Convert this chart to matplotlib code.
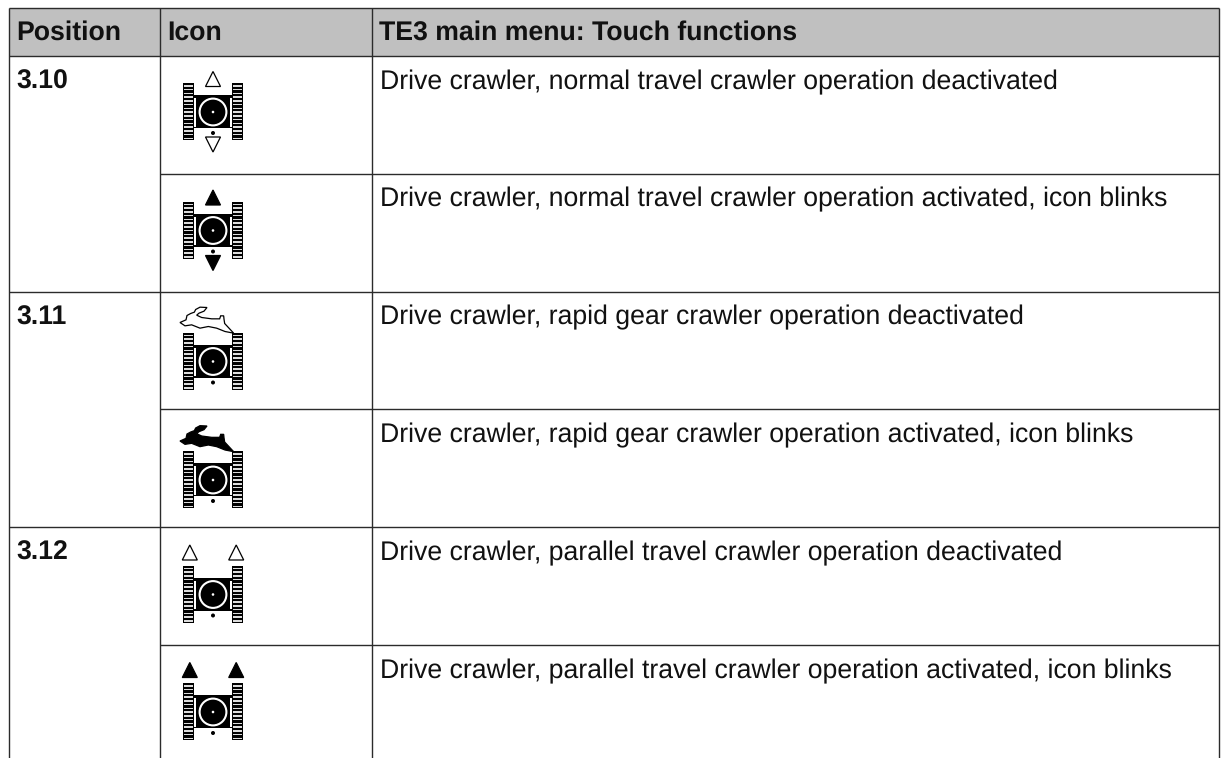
import matplotlib
matplotlib.use("Agg")
import matplotlib.pyplot as plt
from matplotlib.patches import Rectangle, Circle, Polygon

plt.rcParams['font.family'] = ['Liberation Sans', 'DejaVu Sans']
plt.rcParams['text.hinting'] = 'no_hinting'
plt.rcParams['text.hinting_factor'] = 8

# ---- content ----
headers = ["Position", "Icon", "TE3 main menu: Touch functions"]
positions = ["3.10", "3.11", "3.12"]
functions = [
    "Drive crawler, normal travel crawler operation deactivated",
    "Drive crawler, normal travel crawler operation activated, icon blinks",
    "Drive crawler, rapid gear crawler operation deactivated",
    "Drive crawler, rapid gear crawler operation activated, icon blinks",
    "Drive crawler, parallel travel crawler operation deactivated",
    "Drive crawler, parallel travel crawler operation activated, icon blinks",
]
icon_kinds = ["normal_off", "normal_on", "rapid_off", "rapid_on", "parallel_off", "parallel_on"]

# ---- layout (pixels) ----
W, H = 1224, 758
col_x = [8.5, 159.5, 371.5, 1218.5]
head_top, head_bot = 8, 56
row_y = [56, 173.5, 291.5, 409, 527, 645]
track_tops = [83, 201.5, 332.5, 451, 565.5, 683]
ICON_CX = 213
LINE = "#2b2b2b"
TXT = "#111111"

RABBIT = [(15,83),(24,79),(33,75),(36,62),(47,56),(58,52),(62,44),(75,37),(96,38),(87,49),
          (72,55),(65,61),(80,68),(110,72),(134,72),(137,63),(146,63),(147,73),(149,86),
          (176,115),(150,110),(125,100),(100,95),(75,100),(50,90),(30,93)]

fig = plt.figure(figsize=(W/100, H/100), dpi=100, facecolor="white")
ax = fig.add_axes([0, 0, 1, 1])
ax.set_xlim(0, W)
ax.set_ylim(H, 0)
ax.axis("off")

ax.add_patch(Rectangle((col_x[0], head_top), col_x[-1]-col_x[0], head_bot-head_top,
                       fc="#c0c0c0", ec="none", zorder=0))


def hl(x0, x1, y):
    ax.plot([x0, x1], [y, y], color=LINE, lw=1.0, solid_capstyle="butt", zorder=1)


def vl(x, y0, y1):
    ax.plot([x, x], [y0, y1], color=LINE, lw=1.0, solid_capstyle="butt", zorder=1)


hl(col_x[0], col_x[-1], head_top)
for x in col_x:
    vl(x, head_top, H)
for i, y in enumerate(row_y):
    hl(col_x[0] if i % 2 == 0 else col_x[1], col_x[-1], y)

HEAD_FS = 19.15
BODY_FS = 19.17
for x, s in zip([16, 167, 379], headers):
    ax.text(x, 40, s, fontsize=HEAD_FS, fontweight="bold", color=TXT, va="baseline", ha="left")
for i, s in enumerate(positions):
    ax.text(16, row_y[2*i] + 33, s, fontsize=HEAD_FS, fontweight="bold", color=TXT, va="baseline")
for y, s in zip(row_y, functions):
    ax.text(380, y + 33, s, fontsize=BODY_FS, color=TXT, va="baseline")


def tri(cx, top, up, filled, half=7.5, h=15):
    pts = [(cx, top), (cx-half, top+h), (cx+half, top+h)] if up else \
          [(cx, top+h), (cx-half, top), (cx+half, top)]
    ax.add_patch(Polygon(pts, closed=True, fc="black" if filled else "white", ec="black",
                         lw=0.9, joinstyle="miter", zorder=3))


def crawler(t, cx=ICON_CX):
    k = "black"
    # body
    ax.add_patch(Rectangle((cx-20, t+12), 40, 33, fc=k, ec="none", zorder=2))
    # tracks
    for x0 in (cx-30, cx+19):
        ax.add_patch(Rectangle((x0, t), 11, 57, fc=k, ec="none", zorder=2))
        for j in range(15):
            yy = t + 2.0 + j*3.75
            ax.add_patch(Rectangle((x0+1.2, yy), 8.6, 1.5, fc="#dcdcdc", ec="none", zorder=3))
    # white separators
    for x0 in (cx-19.3, cx+17):
        ax.add_patch(Rectangle((x0, t+15), 1.8, 28.5, fc="white", ec="none", zorder=3))
    # wheel
    ax.add_patch(Circle((cx, t+29), 13.4, fc=k, ec="white", lw=1.5, zorder=4))
    ax.add_patch(Circle((cx, t+29), 1.3, fc="white", ec="none", zorder=5))
    # pivot dot
    ax.add_patch(Circle((cx, t+50), 2, fc=k, ec="none", zorder=4))


def rabbit(t, filled):
    pts = [(ICON_CX + (zx-114)/3, t + (zy-113)/3) for zx, zy in RABBIT]
    ax.add_patch(Polygon(pts, closed=True, fc="black" if filled else "white", ec="black",
                         lw=0.9, zorder=6))


for kind, t in zip(icon_kinds, track_tops):
    crawler(t)
    group, state = kind.split("_")
    on = state == "on"
    if group == "normal":
        tri(ICON_CX, t-11.5, True, on)
        tri(ICON_CX, t+54, False, on)
    elif group == "rapid":
        rabbit(t, on)
    else:
        tri(ICON_CX-23.2, t-20.5, True, on)
        tri(ICON_CX+23.2, t-20.5, True, on)

fig.savefig("out.png", dpi=100, facecolor="white")
